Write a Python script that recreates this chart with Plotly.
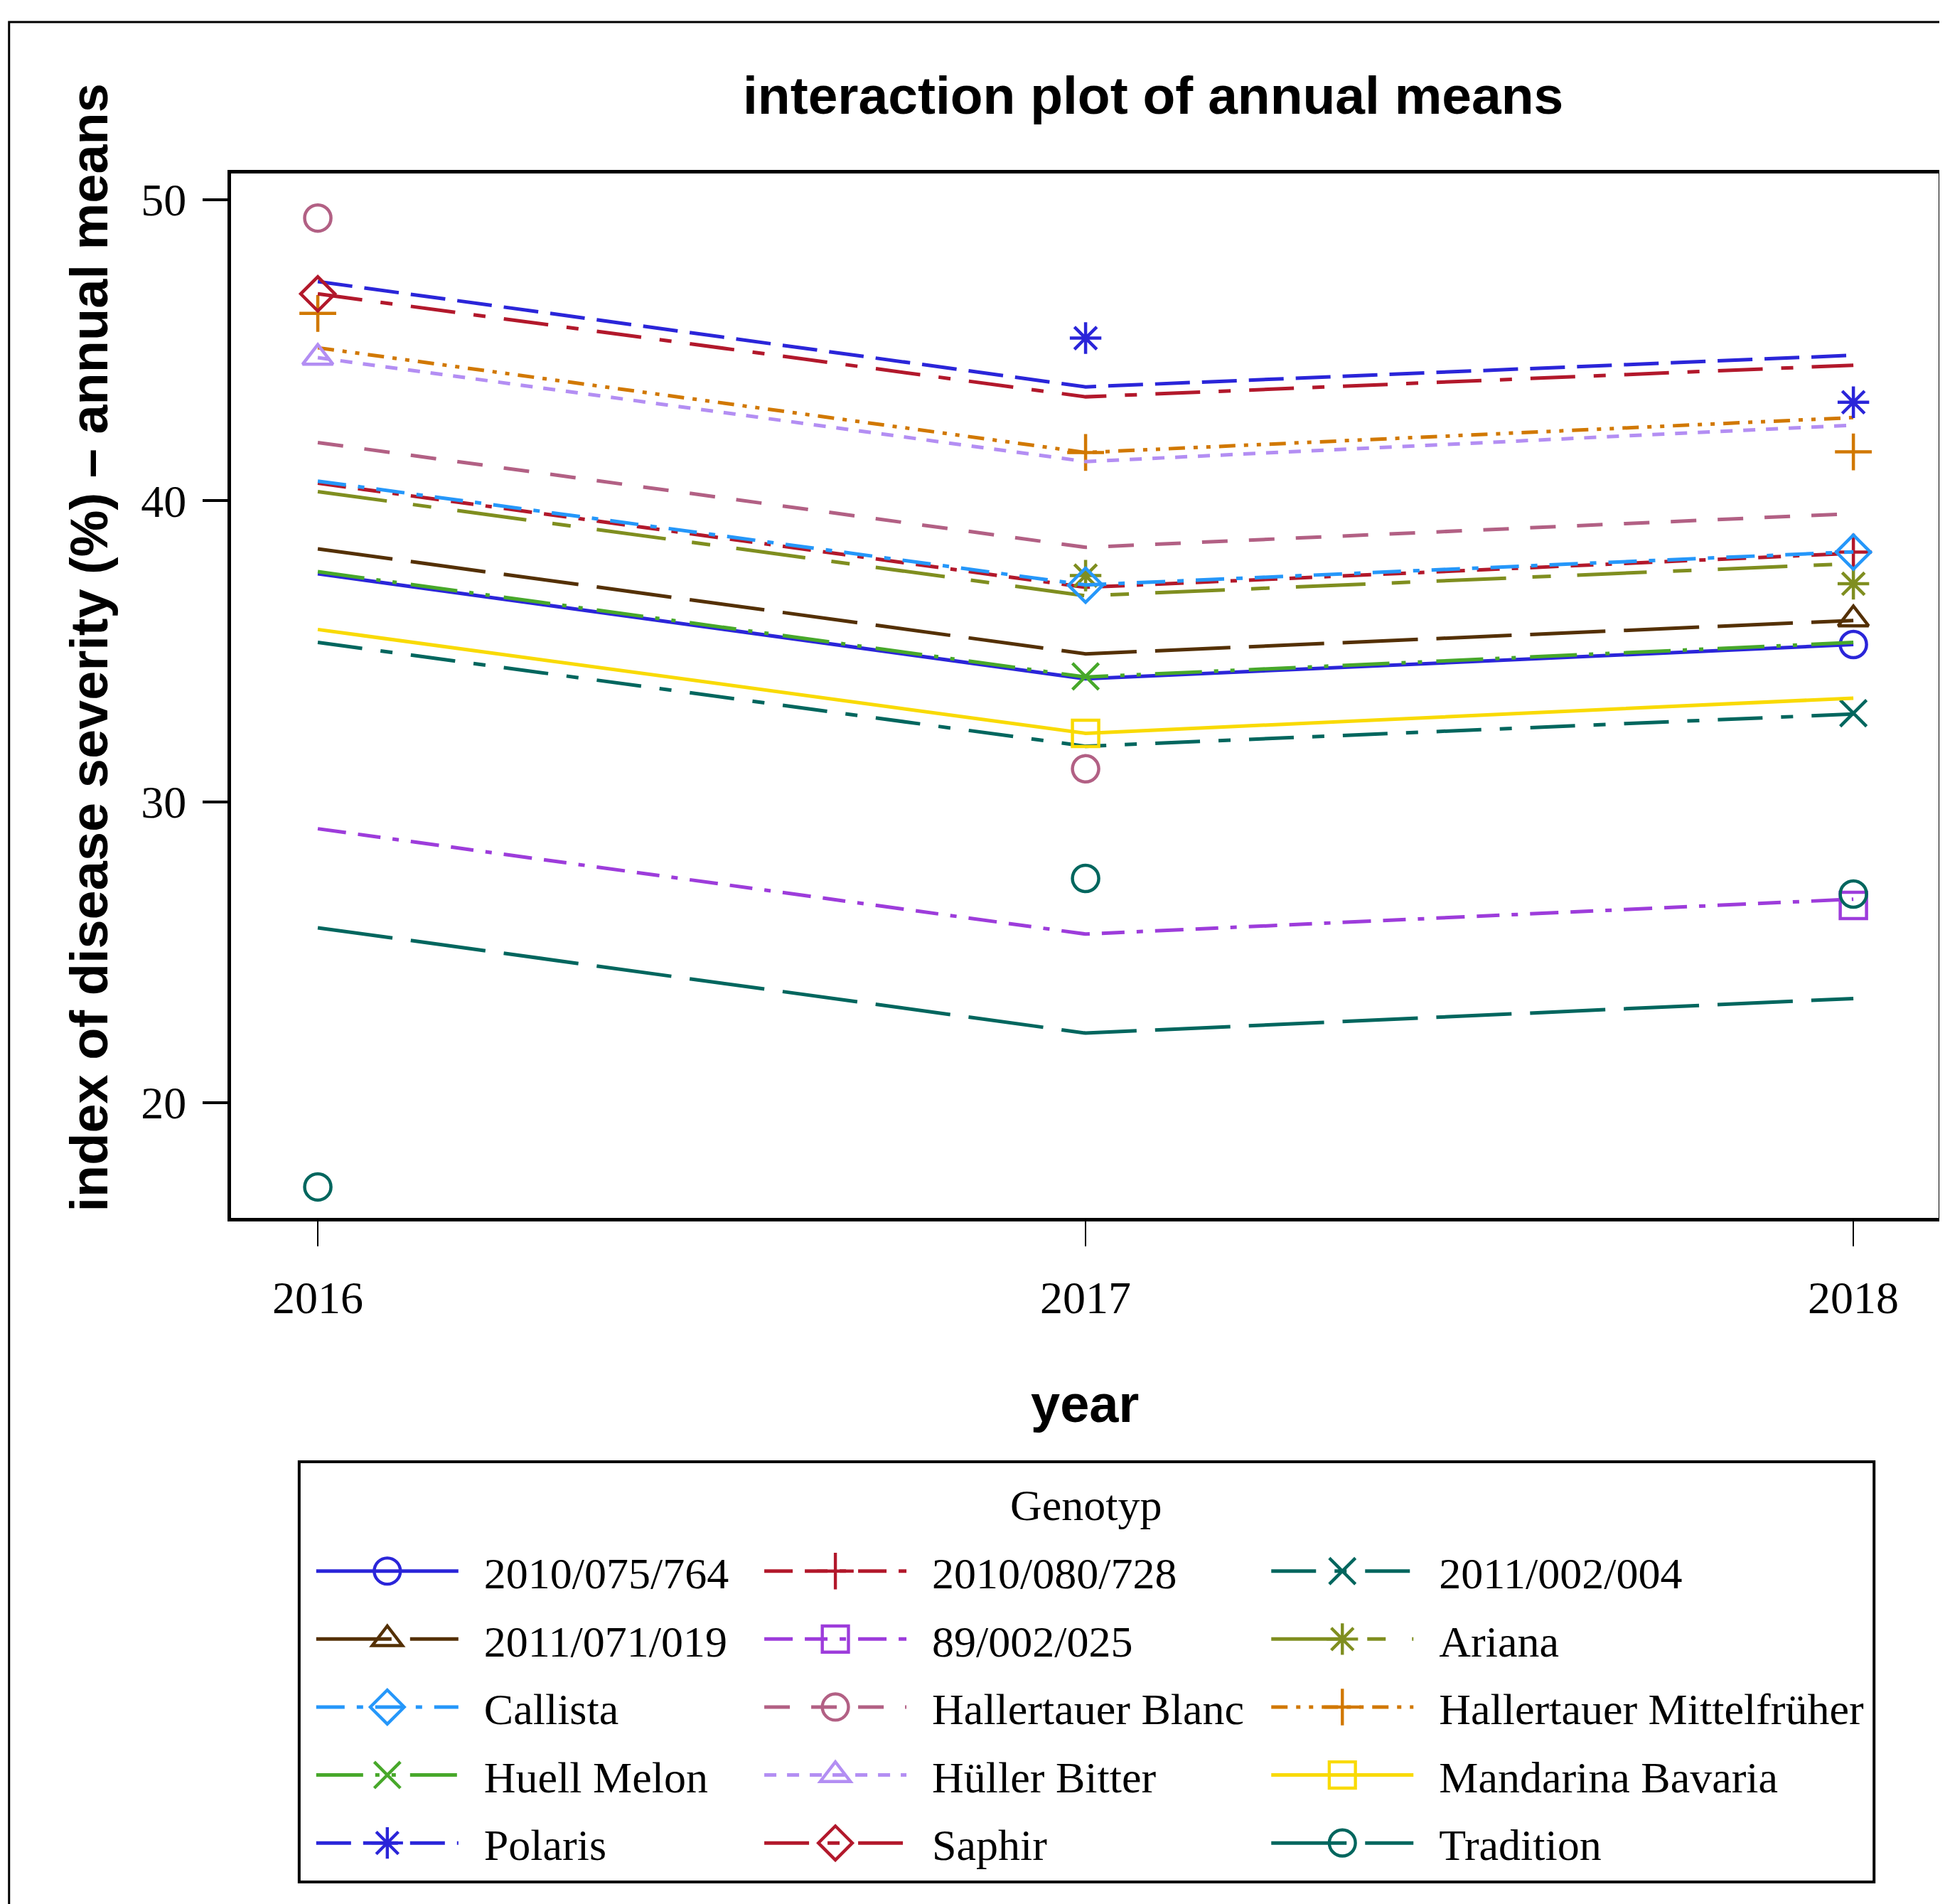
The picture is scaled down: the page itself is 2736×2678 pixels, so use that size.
import plotly.graph_objects as go

years = [2016, 2017, 2018]
genotypes = ["2010/075/764", "2010/080/728", "2011/002/004", "2011/071/019", "89/002/025",
             "Ariana", "Callista", "Hallertauer Blanc", "Hallertauer Mittelfrüher", "Huell Melon",
             "Hüller Bitter", "Mandarina Bavaria", "Polaris", "Saphir", "Tradition"]

# fitted (model) annual means -> lines
fit_2016 = [37.57, 40.58, 35.29, 38.40, 29.10, 40.30, 40.65, 41.93, 45.08, 37.64, 44.75, 35.72, 47.28, 46.87, 25.81]
fit_2017 = [34.08, 37.12, 31.84, 34.91, 25.60, 36.84, 37.20, 38.45, 41.60, 34.14, 41.30, 32.27, 43.78, 43.45, 22.31]
fit_2018 = [35.22, 38.25, 32.91, 36.02, 26.76, 37.91, 38.30, 39.57, 42.76, 35.29, 42.51, 33.44, 44.83, 44.50, 23.46]

# observed annual means -> markers (None = not shown)
obs_2016 = [None, None, None, None, None, None, None, 49.39, 46.22, None, 44.75, None, None, 46.87, 17.20]
obs_2017 = [None, None, None, None, None, 37.51, 37.19, 31.09, 41.60, 34.16, None, 32.27, 45.40, None, 27.45]
obs_2018 = [35.22, 38.29, 32.94, 36.06, 26.55, 37.24, 38.29, None, 41.62, None, None, None, 43.27, None, 26.93]

colors = ["#2A25D9", "#B2182B", "#01665E", "#543005", "#9D3CDB", "#7F8E1F", "#2597FA", "#B26084",
          "#D17800", "#47A82A", "#B38EF3", "#F9DA04", "#2A25D9", "#B2182B", "#01665E"]
symbols = ["circle-open", "cross-thin-open", "x-thin-open", "triangle-up-open", "square-open",
           "asterisk-open", "diamond-open", "circle-open", "cross-thin-open", "x-thin-open",
           "triangle-up-open", "square-open", "asterisk-open", "diamond-open", "circle-open"]
dashes = ["solid", "40px,17px,32px,17px,9px,17px", "63px,26px,17px,26px", "106px,26px",
          "40px,17px,32px,17px,9px,17px", "98px,37px,26px,37px", "40px,17px,9px,17px", "36px,30px",
          "23px,12px,6px,12px,6px,12px", "66px,17px,6px,17px,6px,20px", "17px,15px", "solid",
          "49px,17px", "63px,26px,17px,26px", "106px,26px"]
legend_cols = ["legend", "legend2", "legend3"]

fig = go.Figure()
for i, g in enumerate(genotypes):
    fits = [fit_2016[i], fit_2017[i], fit_2018[i]]
    obs = [obs_2016[i], obs_2017[i], obs_2018[i]]
    col = legend_cols[i % 3]
    fig.add_trace(go.Scatter(x=years, y=fits, mode="lines", legendgroup=g, showlegend=False, legend=col,
                             line=dict(color=colors[i], width=5, dash=dashes[i]),
                             hoverinfo="skip"))
    fig.add_trace(go.Scatter(x=years, y=obs, mode="markers", legendgroup=g, showlegend=False, legend=col,
                             marker=dict(symbol=symbols[i], size=37, color=colors[i],
                                         line=dict(color=colors[i], width=4.5))))
    fig.add_trace(go.Scatter(x=[None], y=[None], mode="lines+markers", name="\u00a0\u00a0" + g,
                             legendgroup=g, legend=col,
                             line=dict(color=colors[i], width=5, dash=dashes[i]),
                             marker=dict(symbol=symbols[i], size=16, color=colors[i],
                                         line=dict(color=colors[i], width=1.9))))

serif = "Liberation Serif, Times New Roman, serif"
sans = "Liberation Sans, Arial, sans-serif"

leg_common = dict(orientation="v", y=-0.3063, xanchor="left", yanchor="top", itemwidth=200,
                  font=dict(family=serif, size=62, color="black"), borderwidth=0,
                  bgcolor="rgba(0,0,0,0)", traceorder="grouped", tracegroupgap=12)

fig.update_layout(
    width=2736, height=2678,
    margin=dict(l=317, r=13, t=236, b=973),
    paper_bgcolor="white", plot_bgcolor="white",
    showlegend=True,
    legend=dict(x=0.0478, **leg_common),
    legend2=dict(x=0.3102, **leg_common),
    legend3=dict(x=0.6071, **leg_common),
    annotations=[
        dict(text="<b>interaction plot of annual means</b>", x=0.54, y=1.075, xref="paper", yref="paper",
             showarrow=False, font=dict(family=sans, size=75, color="black"), xanchor="center", yanchor="middle"),
        dict(text="<b>year</b>", x=0.5, y=-0.178, xref="paper", yref="paper",
             showarrow=False, font=dict(family=sans, size=74, color="black"), xanchor="center", yanchor="middle"),
        dict(text="<b>index of disease severity (%) – annual means</b>", x=-0.083, y=0.546,
             xref="paper", yref="paper", showarrow=False, textangle=-90,
             font=dict(family=sans, size=74, color="black"), xanchor="center", yanchor="middle"),
        dict(text="Genotyp", x=0.5008, y=-0.275, xref="paper", yref="paper", showarrow=False,
             font=dict(family=serif, size=62, color="black"), xanchor="center", yanchor="middle"),
    ],
    shapes=[
        dict(type="rect", xref="paper", yref="paper", x0=-0.13, x1=1.05, y0=-1.0, y1=1.145,
             line=dict(color="black", width=3), layer="below"),
        dict(type="rect", xref="paper", yref="paper", x0=0.0399, x1=0.9622, y0=-0.6358, y1=-0.2335,
             line=dict(color="black", width=4), layer="below"),
    ],
)

fig.update_xaxes(range=[2015.887, 2018.111], tickvals=years, ticktext=[str(y) for y in years],
                 showgrid=False, zeroline=False, showline=True, mirror=True, linecolor="black", linewidth=5,
                 ticks="outside", ticklen=35, tickwidth=2, tickcolor="black", ticklabelstandoff=17,
                 tickfont=dict(family=serif, size=64, color="black"))
fig.update_yaxes(range=[16.17, 50.87], tickvals=[20, 30, 40, 50],
                 showgrid=False, zeroline=False, showline=True, mirror=True, linecolor="black", linewidth=5,
                 ticks="outside", ticklen=35, tickwidth=4, tickcolor="black", ticklabelstandoff=10,
                 tickfont=dict(family=serif, size=64, color="black"))

post = """
var gd = document.getElementById('{plot_id}');
gd.querySelectorAll('g.legendpoints path.scatterpts').forEach(function(p){
  var t = p.getAttribute('transform') || '';
  p.setAttribute('transform', t + ' scale(2.3)');
});
"""

fig.write_html("out.html", post_script=post)
